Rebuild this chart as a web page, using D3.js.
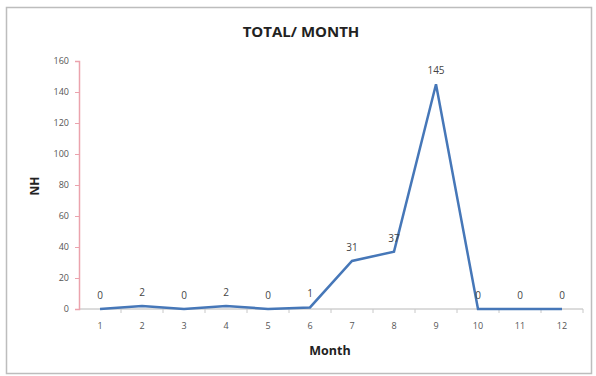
<!DOCTYPE html>
<html>
<head>
<meta charset="utf-8">
<script src="https://cdn.jsdelivr.net/npm/d3@7"></script>
<style>
  body { margin: 0; background: #fff; }
  svg text { font-family: "Open Sans", "Liberation Sans", sans-serif; }
</style>
</head>
<body>
<svg id="chart" width="596" height="376"></svg>
<script>
'use strict'

const months = ['1', '2', '3', '4', '5', '6', '7', '8', '9', '10', '11', '12']
const totals = [0, 2, 0, 2, 0, 1, 31, 37, 145, 0, 0, 0]
const yTicks = [0, 20, 40, 60, 80, 100, 120, 140, 160]

const margins = {top: 61, right: 13, bottom: 67, left: 79}
const width = 596, height = 376
const chartWidth = width - margins.left - margins.right
const chartHeight = height - margins.top - margins.bottom

const svg = d3.select('#chart')

// outer frame
svg.append('rect')
  .attr('x', 6.5).attr('y', 7.5)
  .attr('width', 585).attr('height', 366)
  .attr('fill', '#fff')
  .attr('stroke', '#bdbdbd')
  .attr('stroke-width', 1.5)

// title
svg.append('text')
  .attr('x', 301).attr('y', 37)
  .attr('text-anchor', 'middle')
  .style('font-size', '15px').style('font-weight', 'bold')
  .attr('fill', '#222')
  .text('TOTAL/ MONTH')

const g = svg.append('g')
  .attr('transform', 'translate(' + margins.left + ',' + margins.top + ')')

const x = d3.scaleBand().domain(months).range([0, chartWidth])
const y = d3.scaleLinear().domain([0, 160]).range([chartHeight, 0])

// x axis: ticks between categories
const xAxis = g.append('g')
  .attr('transform', 'translate(0,' + chartHeight + ')')
xAxis.append('line')
  .attr('x1', 0).attr('x2', chartWidth)
  .attr('stroke', '#b8b8b8').attr('stroke-width', 1)
xAxis.selectAll('.sep')
  .data(months)
  .enter().append('line')
  .attr('x1', (d) => x(d) + x.bandwidth())
  .attr('x2', (d) => x(d) + x.bandwidth())
  .attr('y1', 0).attr('y2', 4)
  .attr('stroke', '#c8c8c8')
xAxis.selectAll('.lbl')
  .data(months)
  .enter().append('text')
  .attr('x', (d) => x(d) + x.bandwidth() / 2)
  .attr('y', 20)
  .attr('text-anchor', 'middle')
  .style('font-size', '9px')
  .attr('fill', '#555')
  .text((d) => d)

// y axis (pink line)
const yAxis = g.append('g')
  .call(d3.axisLeft(y).tickValues(yTicks).tickSize(4).tickPadding(6))
yAxis.select('.domain').attr('stroke', '#eba3ad').attr('stroke-width', 1.5)
yAxis.selectAll('.tick line').attr('stroke', '#eba3ad')
yAxis.selectAll('.tick text')
  .style('font-size', '9px').attr('fill', '#555')

// axis titles
svg.append('text')
  .attr('x', 330).attr('y', 355)
  .attr('text-anchor', 'middle')
  .style('font-size', '12.5px').style('font-weight', 'bold')
  .attr('fill', '#222')
  .text('Month')
svg.append('text')
  .attr('transform', 'translate(39,186) rotate(-90)')
  .attr('text-anchor', 'middle')
  .style('font-size', '12px').style('font-weight', 'bold')
  .attr('fill', '#222')
  .text('NH')

// line
const line = d3.line()
  .x((d, i) => x(months[i]) + x.bandwidth() / 2)
  .y((d) => y(d))
g.append('path')
  .datum(totals)
  .attr('fill', 'none')
  .attr('stroke', '#4677b8')
  .attr('stroke-width', 2.5)
  .attr('stroke-linejoin', 'miter')
  .attr('d', line)

// data labels
g.selectAll('.val')
  .data(totals)
  .enter().append('text')
  .attr('x', (d, i) => x(months[i]) + x.bandwidth() / 2)
  .attr('y', (d) => y(d) - 10)
  .attr('text-anchor', 'middle')
  .style('font-size', '10px')
  .attr('fill', '#444')
  .text((d) => d)
</script>
</body>
</html>
